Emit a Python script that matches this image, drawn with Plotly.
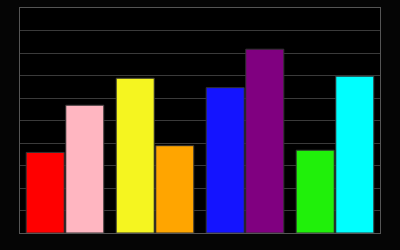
import plotly.graph_objects as go

categories = ["A", "B", "C", "D"]
series1_values = [3.58, 6.88, 6.46, 3.68]
series2_values = [5.68, 3.88, 8.17, 6.97]
series1_colors = ["#ff0000", "#f5f520", "#1414ff", "#20f00a"]
series2_colors = ["#ffb6c1", "#ffa500", "#800080", "#00ffff"]

fig = go.Figure()
fig.add_trace(go.Bar(x=categories, y=series1_values,
                     marker=dict(color=series1_colors, line=dict(color="#333333", width=1))))
fig.add_trace(go.Bar(x=categories, y=series2_values,
                     marker=dict(color=series2_colors, line=dict(color="#333333", width=1))))

fig.update_layout(
    width=400, height=250,
    margin=dict(l=20, r=20, t=8, b=17),
    paper_bgcolor="#050505",
    plot_bgcolor="#000000",
    showlegend=False,
    barmode="group",
    bargap=0.12,
    bargroupgap=0.04,
)
fig.update_xaxes(showticklabels=False, showgrid=False, showline=True, mirror=True,
                 linecolor="#555555", linewidth=1, ticks="")
fig.update_yaxes(range=[0, 10], dtick=1, showticklabels=False, showgrid=True,
                 gridcolor="#3a3a3a", gridwidth=1, showline=True, mirror=True,
                 linecolor="#555555", linewidth=1, ticks="", zeroline=False)

fig.write_html("out.html")
